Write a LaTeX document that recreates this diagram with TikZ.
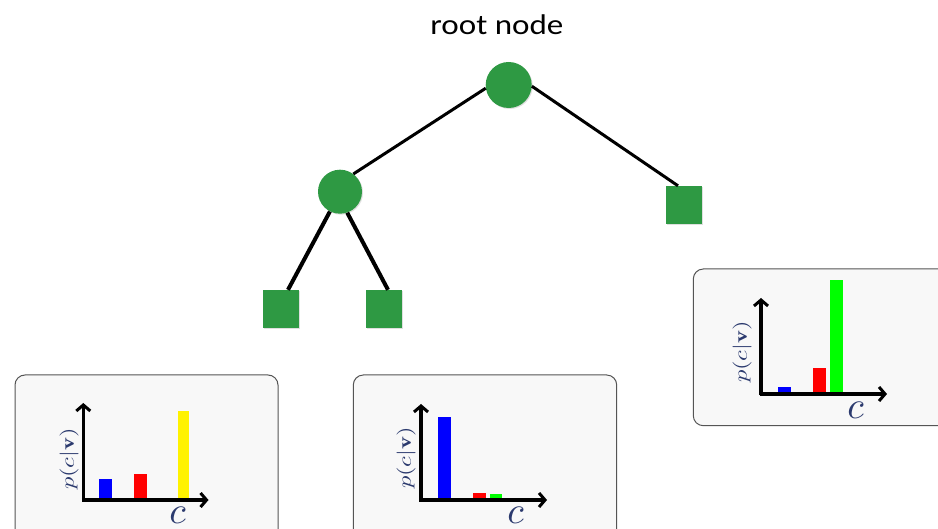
\documentclass[tikz,border=0pt]{standalone}
\usepackage{fontspec}
\usepackage{amsmath}
\usepackage{graphicx}
\newfontfamily\carlito{Carlito}
\usetikzlibrary{arrows.meta,shadows}
\definecolor{treegreen}{HTML}{2E9943}
\definecolor{panelfill}{HTML}{F8F8F8}
\definecolor{panelline}{HTML}{555555}
\definecolor{labelblue}{HTML}{2B3A6E}
\tikzset{
  inode/.style={circle,fill=treegreen,inner sep=0pt,
    drop shadow={shadow xshift=1pt,shadow yshift=-1pt,opacity=0.25}},
  leaf/.style={rectangle,fill=treegreen,inner sep=0pt,minimum width=36pt,minimum height=38pt,
    drop shadow={shadow xshift=1pt,shadow yshift=-1pt,opacity=0.25}},
  edge/.style={line width=3pt,black},
  thickedge/.style={line width=4pt,black},
  panel/.style={draw=panelline,fill=panelfill,line width=1pt,rounded corners=10pt},
  axis/.style={line width=3.3pt,black,-{Straight Barb[length=6pt,width=14pt,line width=3pt]}},
  ylab/.style={text=labelblue,inner sep=0pt,rotate=90},
  xlab/.style={text=labelblue,inner sep=0pt},
}
\newcommand{\pcv}{\scalebox{2.45}[1.9]{$p(c|\mathbf{v})$}}
\newcommand{\cvar}{\scalebox{3.8}{$c$}}
\begin{document}
\begin{tikzpicture}[x=1pt,y=-1pt]
\clip (0,0) rectangle (938,529);
\fill[white] (0,0) rectangle (938,529);

% title
\node[inner sep=0pt,font=\carlito\fontsize{28.5}{28.5}\selectfont,xscale=1.16] (title) at (497,25) {root node};

% tree
\node[inode,minimum size=46pt] (root) at (508.7,85) {};
\node[inode,minimum size=44pt] (left) at (340,191.7) {};
\node[leaf] (sqR) at (684,205) {};
\node[leaf] (bl) at (281,309) {};
\node[leaf] (bm) at (384,309) {};

\draw[edge] (root.188) -- (left.53);
\draw[edge] (root.-3) -- ([xshift=-6pt]sqR.north);
\draw[thickedge] (left.-117) -- ([xshift=7pt]bl.north);
\draw[thickedge] (left.-71) -- ([xshift=4pt]bm.north);

% panel 1
\draw[panel] (15,375) rectangle (278,545);
\fill[blue] (99,479) rectangle (112,500);
\fill[red] (134,474) rectangle (147,500);
\fill[yellow] (177.7,410.7) rectangle (189,500);
\coordinate (o1) at (83.3,500);
\coordinate (y1) at (83.3,403);
\coordinate (x1) at (208.5,500);
\draw[axis] ([yshift=-1.5pt]o1) -- (y1);
\draw[axis] ([xshift=-1.5pt]o1) -- (x1);
\node[ylab] (yl1) at (69,459) {\pcv};
\node[xlab] (xl1) at (177.5,515) {\cvar};

% panel 2
\draw[panel] (353.3,375) rectangle (616.7,545);
\fill[blue] (437.7,416.7) rectangle (450.7,500);
\fill[red] (473,493) rectangle (486,500);
\fill[green] (490,494) rectangle (502,500);
\coordinate (o2) at (421,500);
\coordinate (y2) at (421,404);
\coordinate (x2) at (547,500);
\draw[axis] ([yshift=-1.5pt]o2) -- (y2);
\draw[axis] ([xshift=-1.5pt]o2) -- (x2);
\node[ylab] (yl2) at (406,458) {\pcv};
\node[xlab] (xl2) at (515.7,515) {\cvar};

% panel 3
\draw[panel] (693.3,269) rectangle (955,425.7);
\fill[blue] (778,386.7) rectangle (790.7,394);
\fill[red] (813,367.7) rectangle (826,394);
\fill[green] (830,280) rectangle (842.7,394);
\coordinate (o3) at (761,394);
\coordinate (y3) at (761,298);
\coordinate (x3) at (887,394);
\draw[axis] ([yshift=-1.5pt]o3) -- (y3);
\draw[axis] ([xshift=-1.5pt]o3) -- (x3);
\node[ylab] (yl3) at (742,352) {\pcv};
\node[xlab] (xl3) at (855.7,410.5) {\cvar};
\end{tikzpicture}
\end{document}
